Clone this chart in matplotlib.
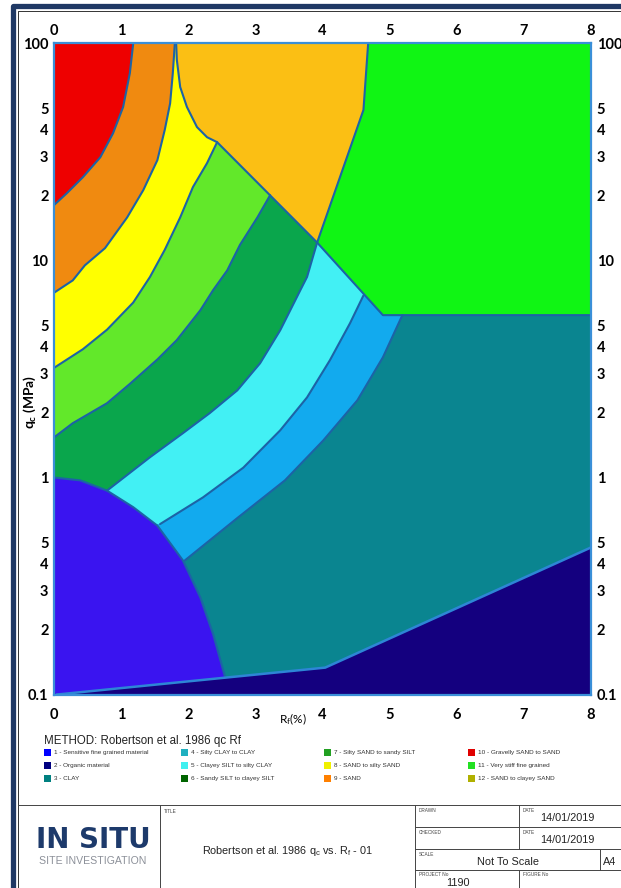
import matplotlib
matplotlib.use('Agg')
import matplotlib.pyplot as plt
from matplotlib.patches import Rectangle

plt.rcParams['font.family'] = ['Lato', 'DejaVu Sans']
plt.rcParams['mathtext.default'] = 'regular'

# ---------------- zone boundaries (Rf %, qc MPa) ----------------
# 10 | 9  (gravelly sand / sand)
rf_b10 = [1.18, 1.13, 1.03, 0.88, 0.69, 0.43, 0.19, 0.0]
qc_b10 = [100, 73, 51, 38.6, 29.9, 24.2, 20.4, 18.0]
# 9 | 8
rf_b9 = [1.80, 1.77, 1.73, 1.65, 1.54, 1.33, 1.09, 0.76, 0.46, 0.28, 0.0]
qc_b9 = [100, 73, 53, 40, 29, 21.1, 15.8, 11.4, 9.5, 8.1, 7.1]
# 12 left side (down to the junction with 11)
rf_b12l = [1.82, 1.83, 1.88, 1.98, 2.13, 2.28, 2.43, 3.92]
qc_b12l = [100, 84, 63, 51, 41.2, 37.0, 35.1, 12.1]
# 12 | 11
rf_b12r = [3.92, 4.61, 4.68]
qc_b12r = [12.1, 49.4, 100]
# 11 lower edge
rf_b11 = [3.92, 4.90, 8.0]
qc_b11 = [12.1, 5.6, 5.6]
# 8 | 7
rf_b8 = [2.43, 2.28, 2.07, 1.88, 1.65, 1.43, 1.18, 0.79, 0.43, 0.0]
qc_b8 = [35.1, 28.1, 21.8, 15.8, 11.2, 8.4, 6.4, 4.8, 3.9, 3.2]
# 7 | 6
rf_b7 = [3.22, 3.03, 2.77, 2.58, 2.37, 2.18, 1.83, 1.54, 1.13, 0.79, 0.28, 0.0]
qc_b7 = [20.0, 15.8, 11.8, 9.0, 7.3, 5.9, 4.3, 3.5, 2.7, 2.2, 1.78, 1.53]
# 6 | 5
rf_b6 = [3.92, 3.77, 3.67, 3.52, 3.37, 3.07, 2.73, 2.32, 1.92, 1.43, 0.79]
qc_b6 = [12.1, 8.4, 7.3, 5.9, 4.77, 3.36, 2.52, 1.98, 1.60, 1.24, 0.87]
# 5 | 4
rf_b5 = [4.61, 4.41, 4.11, 3.77, 3.37, 2.82, 2.22, 1.58]
qc_b5 = [6.9, 5.14, 3.47, 2.34, 1.65, 1.11, 0.81, 0.61]
# 4 | 3
rf_b4 = [5.19, 4.90, 4.52, 4.01, 3.44, 2.73, 1.95]
qc_b4 = [5.6, 3.58, 2.27, 1.48, 0.97, 0.65, 0.415]
# zone 1 outline
rf_b1 = [0.0, 0.39, 0.79, 1.18, 1.54, 1.92, 2.18, 2.37, 2.55]
qc_b1 = [1.0, 0.97, 0.87, 0.73, 0.60, 0.415, 0.28, 0.19, 0.12]
# zone 2 upper edge
rf_b2 = [0.05, 4.04, 8.0]
qc_b2 = [0.1, 0.133, 0.476]

zone_fill = {1: '#3a14f0', 2: '#14007f', 3: '#0a8590', 4: '#12aaee',
             5: '#42f0f4', 6: '#0aa64c', 7: '#62e82a', 8: '#ffff00',
             9: '#f08a10', 10: '#ee0000', 11: '#10f514', 12: '#fbbf14'}

legend_labels = ['1 - Sensitive fine grained material', '2 - Organic material', '3 - CLAY',
                 '4 - Silty CLAY to CLAY', '5 - Clayey SILT to silty CLAY', '6 - Sandy SILT to clayey SILT',
                 '7 - Silty SAND to sandy SILT', '8 - SAND to silty SAND', '9 - SAND',
                 '10 - Gravelly SAND to SAND', '11 - Very stiff fine grained', '12 - SAND to clayey SAND']
legend_colors = ['#0000ff', '#000080', '#008080', '#20b0c0', '#40f0f0', '#006400',
                 '#22a022', '#f0f000', '#ff8000', '#e00000', '#22e022', '#b0b000']

rf_ticks = [0, 1, 2, 3, 4, 5, 6, 7, 8]
qc_ticks = [0.1, 0.2, 0.3, 0.4, 0.5, 1, 2, 3, 4, 5, 10, 20, 30, 40, 50, 100]
qc_labels = ['0.1', '2', '3', '4', '5', '1', '2', '3', '4', '5', '10', '2', '3', '4', '5', '100']

W, H = 621, 888
fig = plt.figure(figsize=(W / 100, H / 100), dpi=100)
fig.patch.set_facecolor('white')

# ---------------- page frame, legend and title block (pixel coords) ----------------
deco = fig.add_axes([0, 0, 1, 1])
deco.set_xlim(0, W)
deco.set_ylim(H, 0)
deco.axis('off')

navy = '#1f3864'
deco.plot([13, 13, 621], [H, 6.5, 6.5], color=navy, lw=3.8, solid_joinstyle='round')
deco.plot([17.5, 17.5, 621], [H, 11, 11], color='#333333', lw=0.7)

deco.text(44, 741, 'METHOD: Robertson et al. 1986 qc Rf', fontsize=8.3,
          family='Liberation Sans', ha='left', va='center', color='#222222')
col_x = [44, 181, 324, 468]
row_y = [752, 765, 778]
for i, (lab, col) in enumerate(zip(legend_labels, legend_colors)):
    x0 = col_x[i // 3]
    y0 = row_y[i % 3]
    deco.add_patch(Rectangle((x0, y0 - 3.5), 7, 7, color=col, lw=0))
    deco.text(x0 + 10, y0, lab, fontsize=4.6, family='Liberation Sans',
              ha='left', va='center', color='#333333')

lc = '#444444'
deco.plot([17.5, 621], [805, 805], color=lc, lw=0.7)
deco.plot([160, 160], [805, H], color=lc, lw=0.7)
deco.plot([415, 415], [805, H], color=lc, lw=0.7)
for yy in [827, 849, 870]:
    deco.plot([415, 621], [yy, yy], color=lc, lw=0.7)
deco.plot([519, 519], [805, 849], color=lc, lw=0.7)
deco.plot([519, 519], [870, H], color=lc, lw=0.7)
deco.plot([600, 600], [849, 870], color=lc, lw=0.7)

small = dict(fontsize=3.4, family='Liberation Sans', color='#444444', ha='left', va='center')
deco.text(164, 811, 'TITLE', **small)
deco.text(419, 810, 'DRAWN', **small)
deco.text(523, 810, 'DATE', **small)
deco.text(419, 832, 'CHECKED', **small)
deco.text(523, 832, 'DATE', **small)
deco.text(419, 854, 'SCALE', **small)
deco.text(419, 874, 'PROJECT No', **small)
deco.text(523, 874, 'FIGURE No', **small)

mid = dict(fontsize=7.8, family='Liberation Sans', color='#222222', ha='center', va='center')
deco.text(567, 818, '14/01/2019', **mid)
deco.text(567, 840, '14/01/2019', **mid)
deco.text(508, 862, 'Not To Scale', **mid)
deco.text(610, 862, 'A4', **mid)
deco.text(458, 883, '1190', **mid)
deco.text(287, 851, 'Robertson et al. 1986 q$_c$ vs. R$_f$ - 01', **mid)

deco.text(93, 840, 'IN SITU', fontsize=20, family='DejaVu Sans', fontweight='bold',
          color='#1d3a6b', ha='center', va='center')
deco.text(93, 861, 'SITE INVESTIGATION', fontsize=7.6, family='Liberation Sans',
          color='#8c9099', ha='center', va='center')

# ---------------- the chart ----------------
ax = fig.add_axes([54 / W, 1 - 694.5 / H, 537 / W, 651 / H])
ax.set_yscale('log')
ax.set_xlim(0, 8)
ax.set_ylim(0.1, 100)

# zone 3 underneath everything, bands painted from the outside in
ax.fill([0, 8, 8, 0], [0.1, 0.1, 100, 100], color=zone_fill[3], lw=0)
ax.fill(rf_b4 + [0, 0, rf_b4[0]], qc_b4 + [qc_b4[-1], 100, 100], color=zone_fill[4], lw=0)
ax.fill(rf_b5 + [0, 0, rf_b5[0]], qc_b5 + [qc_b5[-1], 100, 100], color=zone_fill[5], lw=0)
ax.fill(rf_b6 + [0, 0, rf_b6[0]], qc_b6 + [qc_b6[-1], 100, 100], color=zone_fill[6], lw=0)
ax.fill(rf_b7 + [0, rf_b7[0]], qc_b7 + [100, 100], color=zone_fill[7], lw=0)
ax.fill(rf_b8 + [0, rf_b8[0]], qc_b8 + [100, 100], color=zone_fill[8], lw=0)
ax.fill(rf_b9 + [0], qc_b9 + [100], color=zone_fill[9], lw=0)
ax.fill(rf_b10 + [0], qc_b10 + [100], color=zone_fill[10], lw=0)
ax.fill(rf_b12l + rf_b12r[1:], qc_b12l + qc_b12r[1:], color=zone_fill[12], lw=0)
ax.fill(rf_b12r[::-1] + rf_b11[1:] + [8], qc_b12r[::-1] + qc_b11[1:] + [100],
        color=zone_fill[11], lw=0)
ax.fill(rf_b1 + [rf_b2[0], 0], qc_b1 + [qc_b2[0], 0.1], color=zone_fill[1], lw=0)
ax.fill(rf_b2 + [8], qc_b2 + [0.1], color=zone_fill[2], lw=0)

edge = '#1c63a6'
for xs, ys in [(rf_b10, qc_b10), (rf_b9, qc_b9), (rf_b12l, qc_b12l), (rf_b12r, qc_b12r),
               (rf_b11, qc_b11), (rf_b8, qc_b8), (rf_b7, qc_b7), (rf_b6, qc_b6),
               (rf_b5, qc_b5), (rf_b4, qc_b4), (rf_b1, qc_b1)]:
    ax.plot(xs, ys, color=edge, lw=1.5, solid_capstyle='round', solid_joinstyle='round')
ax.plot(rf_b2, qc_b2, color='#2d86d6', lw=1.8)

for s in ax.spines.values():
    s.set_color('#3a8fd8')
    s.set_linewidth(1.6)

ax.set_xticks(rf_ticks, [str(v) for v in rf_ticks])
ax.set_yticks(qc_ticks, qc_labels)
ax.yaxis.set_minor_locator(matplotlib.ticker.NullLocator())
ax.tick_params(axis='x', length=0, pad=10, labelsize=10.5)
ax.tick_params(axis='y', length=0, pad=4, labelsize=10.5, labelleft=True, labelright=True)
for t in ax.get_xticklabels() + ax.get_yticklabels():
    t.set_fontweight('bold')
for t in ax.yaxis.get_major_ticks():
    t.label2.set_fontweight('bold')

top = ax.secondary_xaxis('top')
top.set_xticks(rf_ticks, [str(v) for v in rf_ticks])
top.tick_params(length=0, pad=4, labelsize=10.5)
for t in top.get_xticklabels():
    t.set_fontweight('bold')
top.spines['top'].set_visible(False)

fig.text(30 / W, 1 - 402 / H, 'q$_c$ (MPa)', rotation=90, fontsize=10, fontweight='bold',
         ha='center', va='center')
fig.text(293 / W, 1 - 719 / H, 'R$_f$(%)', fontsize=8.5, ha='center', va='center')

fig.savefig('out.png', dpi=100)
